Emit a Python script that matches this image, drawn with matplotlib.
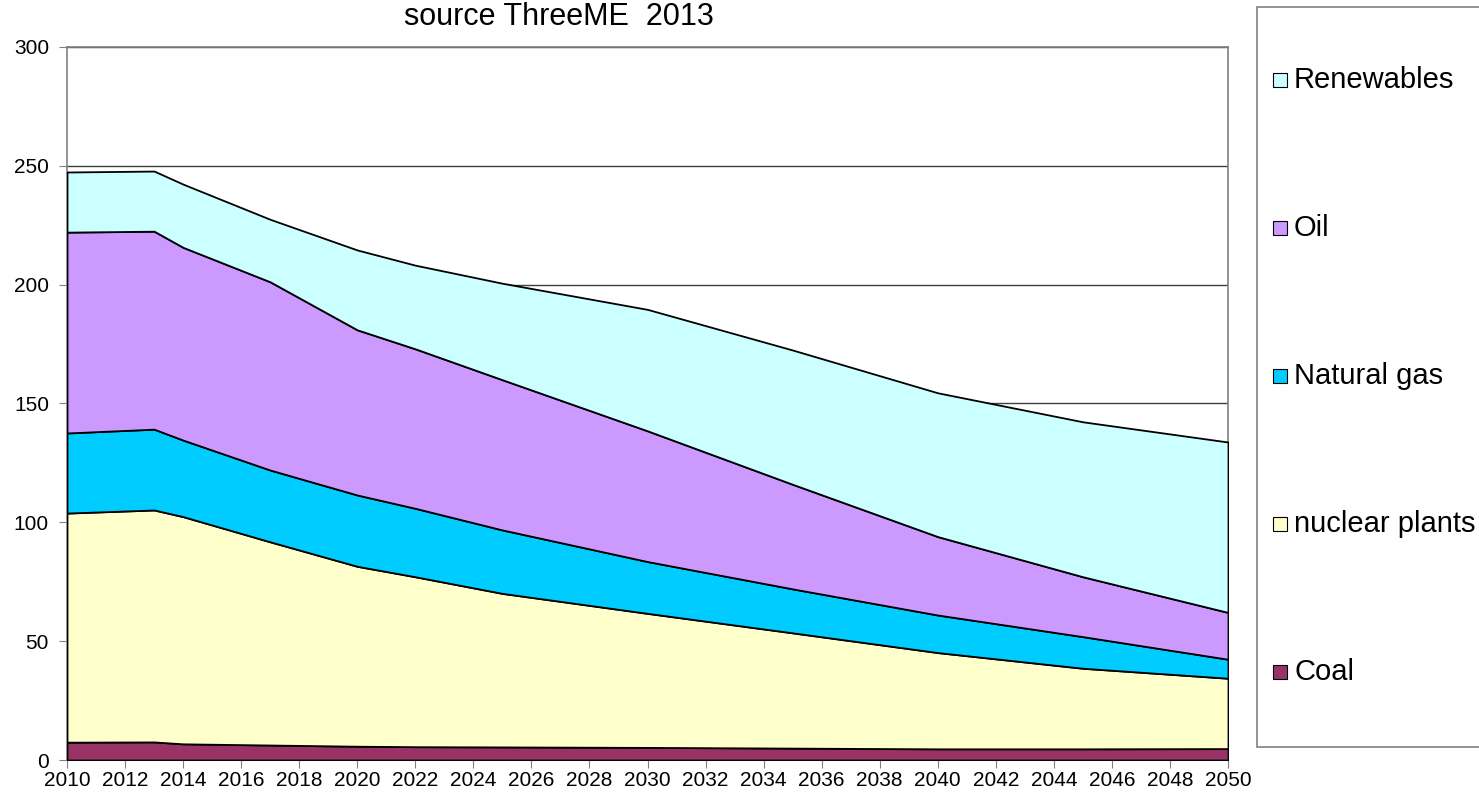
import matplotlib
matplotlib.use("Agg")
import matplotlib.pyplot as plt
from matplotlib.patches import Rectangle

plt.rcParams['font.family'] = ['Liberation Sans', 'DejaVu Sans']

# valeurs (empilees de bas en haut)
annees = [2010, 2013, 2014, 2017, 2020, 2022, 2025, 2030, 2035, 2040, 2045, 2050]
coal = [7.5, 7.6, 6.8, 6.3, 5.8, 5.6, 5.5, 5.3, 5.0, 4.7, 4.7, 4.8]
nuclear = [96.4, 97.6, 95.6, 85.5, 75.7, 71.5, 64.6, 56.4, 48.5, 40.5, 33.9, 29.6]
gas = [33.7, 34.0, 32.2, 30.2, 30.0, 28.8, 26.7, 21.8, 18.5, 15.8, 13.3, 8.0]
oil = [84.5, 83.3, 81.1, 79.2, 69.5, 67.1, 63.2, 55.0, 44.0, 33.0, 25.2, 19.7]
renewables = [25.3, 25.3, 26.6, 26.3, 33.6, 35.2, 40.6, 51.1, 56.5, 60.5, 65.2, 71.7]

etiquetas = ["Coal", "nuclear plants", "Natural gas", "Oil", "Renewables"]
colores = ["#993366", "#FFFFCC", "#00CCFF", "#CC99FF", "#CCFFFF"]

fig = plt.figure(figsize=(14.79, 7.97), dpi=100)
ax = fig.add_axes([67/1479, 37/797, (1228-67)/1479, (760-47)/797])

ax.stackplot(annees, coal, nuclear, gas, oil, renewables,
             colors=colores, edgecolor="black", linewidth=1.3, zorder=3)

ax.set_xlim(2010, 2050)
ax.set_ylim(0, 300)
ax.set_xticks(range(2010, 2051, 2))
ax.set_yticks(range(0, 301, 50))
ax.yaxis.grid(True, color="#404040", linewidth=1, zorder=0)
ax.set_axisbelow(True)
for s in ax.spines.values():
    s.set_color("#808080")
    s.set_linewidth(1.2)
ax.tick_params(axis="both", direction="out", length=6, color="#808080", labelsize=15)
ax.tick_params(axis="y", pad=7)
ax.tick_params(axis="x", pad=2)

fig.text(559/1479, 1 - 17/797, "source ThreeME  2013", ha="center", va="center", fontsize=22)

# leyenda a mano (caja a la derecha)
caja = Rectangle((1257/1479, 1 - 747/797), 0.2, (747-7)/797, transform=fig.transFigure,
                 facecolor="white", edgecolor="#808080", linewidth=1.2)
fig.patches.append(caja)
for i, (lab, col) in enumerate(zip(etiquetas, colores)):
    yc = 1 - (672 - i*148)/797
    fig.patches.append(Rectangle((1273/1479, yc - 7/797), 14/1479, 14/797, transform=fig.transFigure,
                                 facecolor=col, edgecolor="black", linewidth=0.8))
    fig.text(1294/1479, yc, lab, ha="left", va="center", fontsize=21)

fig.savefig("out.png", dpi=100)
